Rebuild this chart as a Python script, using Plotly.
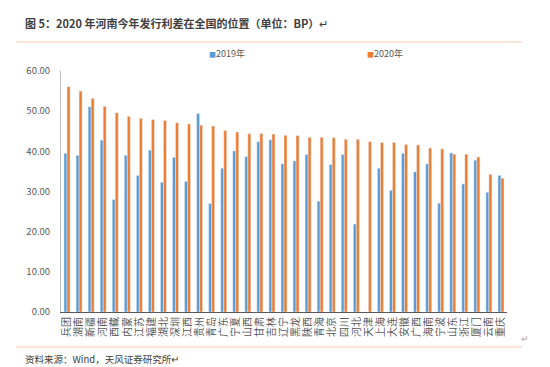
import plotly.graph_objects as go

categories = ["兵团","湖南","新疆","河南","西藏","内蒙","江苏","福建","湖北","深圳","江西","贵州","青岛",
              "广东","宁夏","山西","甘肃","吉林","辽宁","黑龙","陕西","青海","北京","四川","河北","天津",
              "上海","大连","安徽","广西","海南","宁波","山东","浙江","厦门","云南","重庆"]
values_2019 = [39.5,39.0,51.1,42.8,28.0,39.0,34.0,40.3,32.3,38.5,32.5,49.4,27.0,
               35.8,40.1,38.7,42.4,42.9,36.9,37.6,39.2,27.6,36.7,39.2,21.9,0,
               35.8,30.3,39.5,34.9,36.9,27.1,39.6,31.9,37.8,29.8,34.0]
values_2020 = [56.1,55.0,53.2,51.2,49.6,48.7,48.2,47.9,47.7,47.1,46.8,46.5,46.3,
               45.2,44.8,44.4,44.4,44.3,44.0,43.9,43.5,43.5,43.4,43.0,43.0,42.4,
               42.2,42.2,41.7,41.6,40.8,40.6,39.3,39.3,38.6,34.3,33.3]
y_ticks = [0, 10, 20, 30, 40, 50, 60]
series_names = ["2019年", "2020年"]
colors = ["#5B9BD5", "#ED7D31"]

FONT = "Noto Sans CJK SC, Noto Sans, sans-serif"

fig = go.Figure()
fig.add_trace(go.Bar(x=categories, y=values_2019, name=series_names[0], marker_color=colors[0]))
fig.add_trace(go.Bar(x=categories, y=values_2020, name=series_names[1], marker_color=colors[1]))

L, R, T, B = 53, 51, 63, 63
W, H = 550, 367
pw, ph = W - L - R, H - T - B
def px(x): return (x - L) / pw
def py(y): return (H - B - y) / ph

fig.update_layout(
    width=W, height=H,
    margin=dict(l=L, r=R, t=T, b=B, pad=0),
    paper_bgcolor="white", plot_bgcolor="white",
    font=dict(family=FONT, color="#595959", size=9),
    barmode="group", bargap=0.5, bargroupgap=0,
    showlegend=False,
    xaxis=dict(tickmode="array", tickvals=categories, ticktext=categories,
               tickangle=-90, showline=True, linecolor="#595959", linewidth=1,
               ticks="", tickfont=dict(size=10, color="#595959"), showgrid=False),
    yaxis=dict(range=[0, 60], tickmode="array", tickvals=y_ticks, tickformat=".2f",
               showline=True, linecolor="#BFBFBF", linewidth=1, showgrid=False,
               zeroline=False, ticks="", tickfont=dict(size=9.5, color="#595959"),
               ticklabelstandoff=8),
)

# legend drawn as text entries
for name, col, xpos in zip(series_names, colors, [199, 357]):
    fig.add_annotation(xref="paper", yref="paper", x=px(xpos), y=py(45), xanchor="left", yanchor="middle",
                       text=f'<span style="color:{col};font-size:7px">■</span>{name}', showarrow=False,
                       font=dict(size=9, color="#595959", family=FONT))

fig.add_annotation(xref="paper", yref="paper", x=px(15), y=py(15), xanchor="left", yanchor="middle",
                   text="<b>图 5：2020 年河南今年发行利差在全国的位置（单位：BP）</b>↵", showarrow=False,
                   font=dict(size=11, color="#404040", family=FONT))
fig.add_shape(type="line", xref="paper", yref="paper", x0=px(8), x1=px(514), y0=py(34), y1=py(34),
              line=dict(color="#F8CBAD", width=1))
fig.add_shape(type="line", xref="paper", yref="paper", x0=px(8), x1=px(514), y0=py(339), y1=py(339),
              line=dict(color="#F8CBAD", width=1))
fig.add_annotation(xref="paper", yref="paper", x=px(15), y=py(351), xanchor="left", yanchor="middle",
                   text="资料来源：Wind，天风证券研究所↵", showarrow=False,
                   font=dict(size=9.5, color="#404040", family=FONT))
fig.add_annotation(xref="paper", yref="paper", x=px(517), y=py(330), xanchor="center", yanchor="middle",
                   text="↵", showarrow=False, font=dict(size=9, color="#A6A6A6", family=FONT))

fig.write_html("out.html")
